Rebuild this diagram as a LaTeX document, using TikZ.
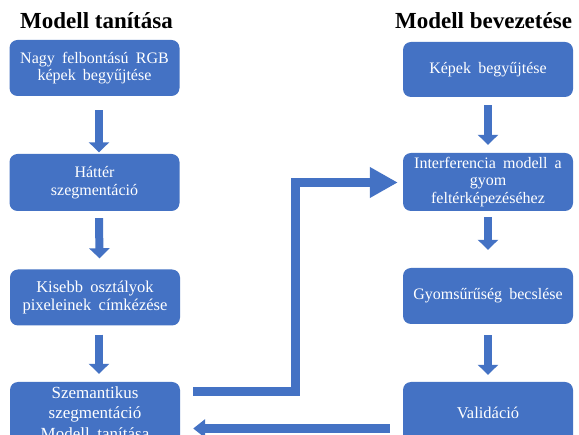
\documentclass[tikz,border=0pt]{standalone}
\usepackage{fontspec}
\setmainfont{Liberation Serif}
\usetikzlibrary{arrows.meta,calc}
\definecolor{boxblue}{HTML}{4472C4}
\begin{document}
\begin{tikzpicture}[x=1pt,y=-1pt,
  box/.style={draw=none,fill=boxblue,rounded corners=8pt,minimum width=170pt,minimum height=56pt,inner sep=2pt,align=center,text=white,font=\fontsize{16}{17.5}\selectfont,execute at begin node={\spaceskip=0.45em\relax}},
  title/.style={font=\fontsize{23}{26}\selectfont\bfseries,anchor=base},
  downarrow/.style={draw=boxblue,line width=8pt,-{Triangle[width=20pt,length=10pt]}},
  bigarrow/.style={draw=boxblue,line width=9pt,line join=miter,-{Triangle[width=29pt,length=28pt]}},
  backarrow/.style={draw=boxblue,line width=9pt,-{Triangle[width=18pt,length=12pt]}}
]
\useasboundingbox (0,0) rectangle (579,435);
\clip (0,0) rectangle (579,435);
\fill[white] (0,0) rectangle (579,435);

\node[title] (t1) at (96.5,29) {Modell tanítása};
\node[title] (t2) at (483.5,29) {Modell bevezetése};

\node[box] (L1) at (94.5,68) {Nagy felbontású RGB\\képek begyűjtése};
\node[box,minimum height=57pt] (L2) at (94.5,182.5) {Háttér\\szegmentáció};
\node[box,font=\fontsize{16.5}{18}\selectfont] (L3) at (95,297.5) {Kisebb osztályok\\pixeleinek címkézése};
\node[box,minimum height=62pt,font=\fontsize{17}{20.5}\selectfont] (L4) at (95,413) {Szemantikus\\szegmentáció\\Modell tanítása};

\node[box,minimum height=55pt] (R1) at (488,69.5) {Képek begyűjtése};
\node[box,minimum height=58pt] (R2) at (488,182) {Interferencia modell a\\gyom\\feltérképezéséhez};
\node[box] (R3) at (488,296) {Gyomsűrűség becslése};
\node[box,minimum height=62pt,font=\fontsize{16.5}{18}\selectfont] (R4) at (488,413) {Validáció};

% down arrows
\draw[downarrow] ($(L1.south)+(4.5,14)$) -- ($(L2.north)+(4.5,-1.5)$);
\draw[downarrow] ($(L2.south)+(4.5,7)$) -- ($(L3.north)+(4.5,-11)$);
\draw[downarrow] ($(L3.south)+(4,9)$) -- ($(L4.north)+(4,-8)$);

\draw[downarrow] ($(R1.south)+(0,8)$) -- ($(R2.north)+(0,-8)$);
\draw[downarrow] ($(R2.south)+(0,6)$) -- ($(R3.north)+(0,-18)$);
\draw[downarrow] ($(R3.south)+(0,11)$) -- ($(R4.north)+(0,-7)$);

% elbow arrow from training to inference model
\coordinate (s) at ($(L4.north east)+(13,9.5)$);
\coordinate (e) at ($(R2.west)+(-5,0.5)$);
\draw[bigarrow] (s) -- ++(102.5,0) |- (e);

% back arrow from validation to training
\coordinate (bs) at ($(R4.west)+(-13,15.5)$);
\coordinate (be) at ($(L4.east)+(13,15.5)$);
\draw[backarrow] (bs) -- (be);
\end{tikzpicture}
\end{document}
